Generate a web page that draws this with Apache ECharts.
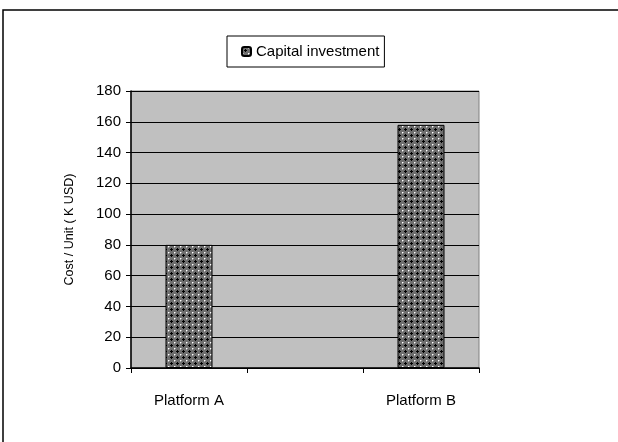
<!DOCTYPE html>
<html>
<head>
<meta charset="utf-8">
<script src="https://cdn.jsdelivr.net/npm/echarts@6/dist/echarts.min.js"></script>
<style>
  html, body { margin: 0; padding: 0; background: #fff; }
  #chart { width: 618px; height: 442px; }
</style>
</head>
<body>
<div id="chart"></div>
<script>
// data
let categories = ['Platform A', '', 'Platform B'];
let capitalInvestment = [80, null, 158];
let seriesName = 'Capital investment';
let yTicks = { min: 0, max: 180, interval: 20 };

// checkered fill like the old office pattern
function makePattern() {
    let c = document.createElement('canvas');
    c.width = 6;
    c.height = 6;
    let ctx = c.getContext('2d');
    ctx.fillStyle = '#6e6e6e';
    ctx.fillRect(0, 0, 6, 6);
    ctx.fillStyle = '#000';
    ctx.fillRect(3, 2, 1, 3);
    ctx.fillRect(2, 3, 3, 1);
    ctx.fillStyle = '#fff';
    ctx.fillRect(0, 0, 1, 1);
    ctx.fillStyle = '#b0b0b0';
    ctx.fillRect(1, 0, 1, 1);
    ctx.fillRect(0, 1, 1, 1);
    return c;
}

let chart = echarts.init(document.getElementById('chart'));
let font = 'Liberation Sans, Arial, sans-serif';

let option = {
    animation: false,
    textStyle: { fontFamily: font },
    graphic: [
        {
            type: 'rect',
            shape: { x: 3, y: 10, width: 700, height: 500 },
            style: { fill: 'none', stroke: '#000', lineWidth: 1.5 },
            silent: true
        }
    ],
    legend: {
        left: 227,
        top: 36,
        padding: [8, 5, 8, 14],
        borderColor: '#000',
        borderWidth: 1,
        itemWidth: 9,
        itemHeight: 9,
        textStyle: { fontSize: 15, color: '#000', fontFamily: font },
        data: [seriesName]
    },
    grid: {
        left: 131,
        top: 91,
        width: 348,
        height: 277,
        show: true,
        backgroundColor: '#c0c0c0',
        borderColor: '#808080',
        borderWidth: 1
    },
    xAxis: {
        type: 'category',
        data: categories,
        axisLine: { lineStyle: { color: '#000', width: 1.5 } },
        axisTick: { show: true, length: 5, lineStyle: { color: '#000' } },
        axisLabel: { color: '#000', fontSize: 15, margin: 25, fontFamily: font },
        splitLine: { show: false }
    },
    yAxis: {
        type: 'value',
        min: yTicks.min,
        max: yTicks.max,
        interval: yTicks.interval,
        name: 'Cost / Unit ( K USD)',
        nameLocation: 'middle',
        nameGap: 55,
        nameTextStyle: { color: '#000', fontSize: 12.5, fontFamily: font },
        axisLine: { show: true, lineStyle: { color: '#000', width: 1.5 } },
        axisTick: { show: true, length: 5, lineStyle: { color: '#000' } },
        axisLabel: { color: '#000', fontSize: 15, margin: 10, fontFamily: font },
        splitLine: { show: true, lineStyle: { color: '#000', width: 1 } }
    },
    series: [
        {
            name: seriesName,
            type: 'bar',
            barWidth: 47,
            itemStyle: {
                color: { image: makePattern(), repeat: 'repeat' },
                borderColor: '#000',
                borderWidth: 1
            },
            data: capitalInvestment
        }
    ]
};

chart.setOption(option);
</script>
</body>
</html>
